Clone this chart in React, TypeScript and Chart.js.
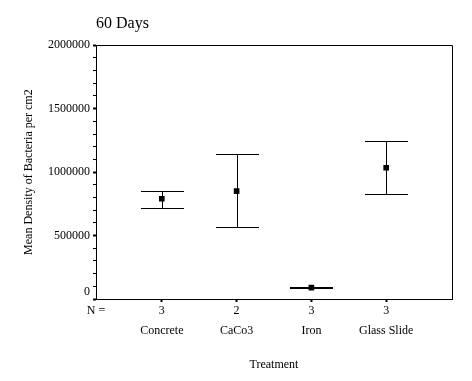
import React, { useEffect, useRef } from 'react';
import { Chart, registerables } from 'chart.js';

Chart.register(...registerables);

const categories = ['Concrete', 'CaCo3', 'Iron', 'Glass Slide'];
const nCounts = ['3', '2', '3', '3'];
const means = [790000, 850000, 90000, 1034000];
const upper = [848000, 1139000, 96000, 1242000];
const lower = [714000, 564000, 84000, 824000];

const X_MIN = 0.12;
const X_MAX = 4.88;
const Y_MAX = 2000000;
const FONT = "'Liberation Serif', 'Times New Roman', serif";
const CAP_HALF = 21.5;

const frame = {
  id: 'frame',
  afterDraw(chart: any) {
    const { ctx, chartArea } = chart;
    const { left, right, top, bottom } = chartArea;
    ctx.save();
    ctx.strokeStyle = '#000';
    ctx.lineWidth = 1;
    ctx.beginPath();
    ctx.moveTo(Math.round(left) + 0.5, Math.round(top) + 0.5);
    ctx.lineTo(Math.round(right) + 0.5, Math.round(top) + 0.5);
    ctx.lineTo(Math.round(right) + 0.5, Math.round(bottom) + 0.5);
    ctx.stroke();
    ctx.restore();
  },
};

const errorBars = {
  id: 'errorBars',
  beforeDatasetsDraw(chart: any) {
    const { ctx } = chart;
    const xs = chart.scales.x;
    const ys = chart.scales.y;
    ctx.save();
    ctx.strokeStyle = '#000';
    ctx.lineWidth = 1;
    for (let i = 0; i < categories.length; i++) {
      const x = Math.round(xs.getPixelForValue(i + 1)) + 0.5;
      const yHi = Math.round(ys.getPixelForValue(upper[i])) + 0.5;
      const yLo = Math.round(ys.getPixelForValue(lower[i])) + 0.5;
      ctx.beginPath();
      ctx.moveTo(x, yHi);
      ctx.lineTo(x, yLo);
      ctx.moveTo(x - CAP_HALF, yHi);
      ctx.lineTo(x + CAP_HALF, yHi);
      ctx.moveTo(x - CAP_HALF, yLo);
      ctx.lineTo(x + CAP_HALF, yLo);
      ctx.stroke();
    }
    ctx.restore();
  },
};

export default function App() {
  const ref = useRef<HTMLCanvasElement>(null);
  useEffect(() => {
    if (!ref.current) return;
    const chart = new Chart(ref.current, {
      type: 'scatter',
      data: {
        datasets: [
          {
            data: means.map((m, i) => ({ x: i + 1, y: m })),
            pointStyle: 'rect',
            pointRadius: 4,
            backgroundColor: '#000',
            borderColor: '#000',
            borderWidth: 0,
          },
        ],
      },
      options: {
        animation: false,
        responsive: true,
        maintainAspectRatio: false,
        layout: { padding: { left: 0, right: 20, top: 0, bottom: 0 } },
        plugins: {
          legend: { display: false },
          tooltip: { enabled: false },
          title: {
            display: true,
            text: '60 Days',
            align: 'start',
            fullSize: false,
            color: '#000',
            font: { family: FONT, size: 16, weight: 'normal' },
            padding: { top: 14, bottom: 12 },
          },
        },
        scales: {
          x: {
            type: 'linear',
            min: X_MIN,
            max: X_MAX,
            afterBuildTicks: (scale: any) => {
              scale.ticks = [{ value: X_MIN }, ...categories.map((_, i) => ({ value: i + 1 }))];
            },
            afterFit: (scale: any) => {
              scale.height = 82;
            },
            border: { display: true, color: '#000', width: 1 },
            grid: {
              drawOnChartArea: false,
              drawTicks: true,
              tickLength: 3,
              tickWidth: 2,
              tickColor: (ctx: any) => (ctx.index === 0 ? 'rgba(0,0,0,0)' : '#000'),
            },
            ticks: {
              autoSkip: false,
              maxRotation: 0,
              minRotation: 0,
              padding: 4,
              color: '#000',
              font: { family: FONT, size: 12, lineHeight: '10px' },
              callback: (_v: any, index: number) =>
                index === 0 ? 'N =' : [nCounts[index - 1], '', categories[index - 1]],
            },
            title: {
              display: true,
              text: 'Treatment',
              color: '#000',
              font: { family: FONT, size: 12 },
              padding: { top: 0, bottom: 9 },
            },
          },
          y: {
            type: 'linear',
            min: 0,
            max: Y_MAX,
            afterFit: (scale: any) => {
              scale.width = 96;
            },
            border: { display: true, color: '#000', width: 1 },
            grid: {
              drawOnChartArea: false,
              drawTicks: true,
              tickLength: 3,
              tickColor: '#000',
              tickWidth: (ctx: any) => (ctx.tick && ctx.tick.value % 500000 === 0 ? 2 : 1),
            },
            ticks: {
              stepSize: 100000,
              autoSkip: false,
              padding: 3,
              color: '#000',
              font: { family: FONT, size: 12 },
              callback: (v: any) => {
                const n = Number(v);
                if (n === 0) return ['0', ''];
                return n % 500000 === 0 ? String(n) : '';
              },
            },
            title: {
              display: true,
              text: 'Mean Density of Bacteria per cm2',
              color: '#000',
              font: { family: FONT, size: 12 },
              padding: { top: 22, bottom: 0 },
            },
          },
        },
      },
      plugins: [frame, errorBars],
    } as any);
    return () => chart.destroy();
  }, []);
  return (
    <div style={{ position: 'fixed', left: 0, top: 0, width: 472, height: 381, background: '#fff' }}>
      <canvas ref={ref} />
    </div>
  );
}
